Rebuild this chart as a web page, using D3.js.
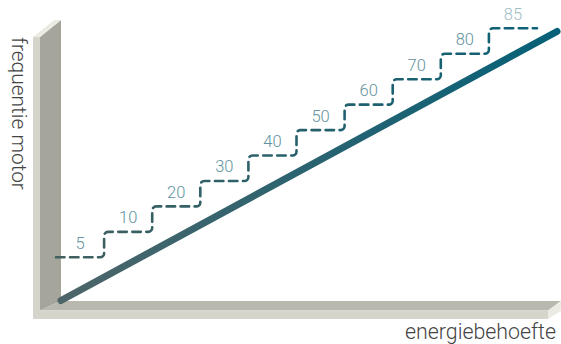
<!DOCTYPE html>
<html>
<head>
<meta charset="utf-8">
<script src="https://cdn.jsdelivr.net/npm/d3@7"></script>
<style>
  html, body { margin: 0; padding: 0; background: #ffffff; }
  svg { display: block; }
  text { font-family: "Roboto", "Open Sans", "Lato", sans-serif; font-weight: 300; }
</style>
</head>
<body>
<svg id="chart" width="561" height="344"></svg>
<script>
// ---- data ----
const stepLabels = ["5", "10", "20", "30", "40", "50", "60", "70", "80", "85"];
const lineEnergy = [0, 100];
const lineFrequency = [0, 100];
const xAxisTitle = "energiebehoefte";
const yAxisTitle = "frequentie motor";

// ---- setup ----
const svg = d3.select("#chart");
const W = 561, H = 344;

const xStep = d3.scaleBand().domain(stepLabels).range([56, 537]);
const yStep = d3.scalePoint().domain(stepLabels).range([257.3, 28.3]);
const xLine = d3.scaleLinear().domain([0, 100]).range([61, 557]);
const yLine = d3.scaleLinear().domain([0, 100]).range([300.5, 31.5]);

const defs = svg.append("defs");
const g1 = defs.append("linearGradient").attr("id", "lineGrad")
  .attr("gradientUnits", "userSpaceOnUse")
  .attr("x1", xLine(0)).attr("y1", 0).attr("x2", xLine(100)).attr("y2", 0);
g1.append("stop").attr("offset", "0%").attr("stop-color", "#4d6569");
g1.append("stop").attr("offset", "100%").attr("stop-color", "#066178");

const g2 = defs.append("linearGradient").attr("id", "dashGrad")
  .attr("gradientUnits", "userSpaceOnUse")
  .attr("x1", xStep.range()[0]).attr("y1", 0).attr("x2", xStep.range()[1]).attr("y2", 0);
g2.append("stop").attr("offset", "0%").attr("stop-color", "#42605f");
g2.append("stop").attr("offset", "100%").attr("stop-color", "#0b6177");

// ---- 3D L-shaped axes ----
const front = "#d6d5cb", side = "#a6a59b", floorTop = "#b9b8ae", bevel = "#ecebe3";
const wallL = 33, wallR = 40, depthX = 21, topFront = 37, topBack = 20;
const floorFrontTop = 310.5, floorBack = 301, floorBottom = 319, floorEnd = 548;

const poly = (pts, fill) => svg.append("polygon")
  .attr("points", pts.map(p => p.join(",")).join(" ")).attr("fill", fill);

poly([[wallR, topFront], [wallR + depthX, topBack], [wallR + depthX, floorBack], [wallR, floorFrontTop]], side);
poly([[wallR, floorFrontTop], [wallR + depthX, floorBack], [W, floorBack], [floorEnd, floorFrontTop]], floorTop);
poly([[floorEnd, floorFrontTop], [W, floorBack + 1], [W, floorBack + 10], [floorEnd, floorBottom]], bevel);
poly([[wallL, topFront], [wallR, topFront], [wallR + depthX, topBack], [wallL + depthX, topBack]], bevel);
poly([[wallL, topFront], [wallR, topFront], [wallR, floorFrontTop], [floorEnd, floorFrontTop],
      [floorEnd, floorBottom], [wallL, floorBottom]], front);

// ---- main line ----
const lineData = lineEnergy.map((e, i) => [e, lineFrequency[i]]);
svg.append("path")
  .datum(lineData)
  .attr("d", d3.line().x(d => xLine(d[0])).y(d => yLine(d[1])))
  .attr("fill", "none")
  .attr("stroke", "url(#lineGrad)")
  .attr("stroke-width", 7)
  .attr("stroke-linecap", "round");

// ---- dashed staircase ----
const bw = xStep.bandwidth();
const r = 4;
const p = d3.path();
p.moveTo(xStep(stepLabels[0]), yStep(stepLabels[0]));
stepLabels.forEach((d, i) => {
  const x1 = xStep(d) + bw, y = yStep(d);
  if (i < stepLabels.length - 1) {
    const yn = yStep(stepLabels[i + 1]);
    p.arcTo(x1, y, x1, yn, r);
    p.arcTo(x1, yn, x1 + bw, yn, r);
  } else {
    p.lineTo(x1, y);
  }
});
svg.append("path")
  .attr("d", p.toString())
  .attr("fill", "none")
  .attr("stroke", "url(#dashGrad)")
  .attr("stroke-width", 2.6)
  .attr("stroke-dasharray", "8.5,5.5")
  .attr("stroke-linecap", "round");

// ---- step labels ----
svg.append("g").selectAll("text")
  .data(stepLabels)
  .join("text")
  .attr("x", d => xStep(d) + bw / 2)
  .attr("y", d => yStep(d) - 8.5)
  .attr("text-anchor", "middle")
  .attr("font-size", 16.5)
  .attr("fill", (d, i) => i === stepLabels.length - 1 ? "#a0bdc5" : "#6393a0")
  .text(d => d);

// ---- axis titles (font size fitted to the reference text width) ----
function fit(sel, target) {
  const len = sel.node().getComputedTextLength();
  if (len > 0) sel.attr("font-size", 20 * target / len);
  return sel;
}
const yt = svg.append("text")
  .attr("transform", "translate(12,37) rotate(90)")
  .attr("text-anchor", "start")
  .attr("font-size", 20)
  .attr("fill", "#444444")
  .text(yAxisTitle);
fit(yt, 153);

const xt = svg.append("text")
  .attr("x", 556)
  .attr("y", 338.5)
  .attr("text-anchor", "end")
  .attr("font-size", 20)
  .attr("fill", "#444444")
  .text(xAxisTitle);
fit(xt, 151);
</script>
</body>
</html>
